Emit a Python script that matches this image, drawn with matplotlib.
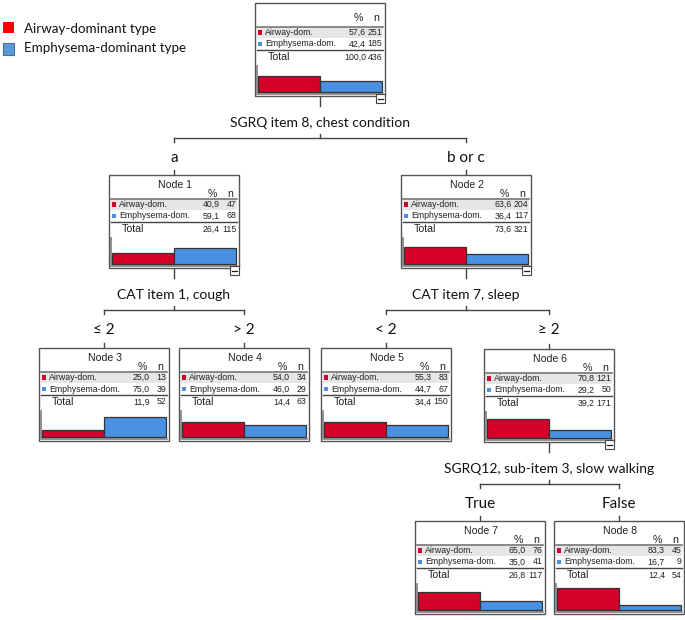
"""
classification tree: airway- vs emphysema-dominant type
"""

import matplotlib
matplotlib.use('Agg')
from matplotlib import pyplot as plt
from matplotlib.patches import Rectangle

# node data
node_names = ['', 'Node 1', 'Node 2', 'Node 3', 'Node 4', 'Node 5', 'Node 6', 'Node 7', 'Node 8']
airway_pct = [57.6, 40.9, 63.6, 25.0, 54.0, 55.3, 70.8, 65.0, 83.3]
airway_n = [251, 47, 204, 13, 34, 83, 121, 76, 45]
emph_pct = [42.4, 59.1, 36.4, 75.0, 46.0, 44.7, 29.2, 35.0, 16.7]
emph_n = [185, 68, 117, 39, 29, 67, 50, 41, 9]
total_pct = [100.0, 26.4, 73.6, 11.9, 14.4, 34.4, 39.2, 26.8, 12.4]
total_n = [436, 115, 321, 52, 63, 150, 171, 117, 54]

# splits: parent, label, children, branch labels
split_parent = [0, 1, 2, 6]
split_label = ['SGRQ item 8, chest condition', 'CAT item 1, cough',
               'CAT item 7, sleep', 'SGRQ12, sub-item 3, slow walking']
split_children = [(1, 2), (3, 4), (5, 6), (7, 8)]
branch_labels = [('a', 'b or c'), ('\u2264 2', '> 2'), ('< 2', '\u2265 2'), ('True', 'False')]

legend_labels = ['Airway-dominant type', 'Emphysema-dominant type']

RED = '#d4002a'
BLUE = '#4a90e2'
W, H = 130, 93

# top-left corners of node boxes (pixels)
box_xy = [(255, 3), (109, 175), (401, 175), (39, 348), (179, 348),
          (321, 348), (484, 349), (415, 521), (554, 521)]

fig = plt.figure(figsize=(6.85, 6.2), dpi=100)
ax = fig.add_axes([0, 0, 1, 1])
ax.set_xlim(0, 685)
ax.set_ylim(620, 0)
ax.axis('off')

small = dict(family='Liberation Sans', fontsize=6.3, color='#222222')
mid = dict(family='Liberation Sans', fontsize=7.6, color='#222222')
calib = dict(family='Lato', color='#111111')


def draw_node(i):
    x0, y0 = box_xy[i]
    ax.add_patch(Rectangle((x0, y0), W, H, fc='white', ec='#555555', lw=1.0, zorder=2))
    # row band and lines
    ax.add_patch(Rectangle((x0 + 2, y0 + 24), W - 4, 11, fc='#e6e6e6', ec='none', zorder=3))
    ax.plot([x0 + 2, x0 + W - 2], [y0 + 23.5, y0 + 23.5], color='#777777', lw=1.2, zorder=4)
    ax.plot([x0 + 2, x0 + W - 2], [y0 + 47, y0 + 47], color='#444444', lw=1.0, zorder=4)
    hy = y0 + 19
    if node_names[i]:
        ax.text(x0 + 66, y0 + 10, node_names[i], ha='center', va='center', zorder=5, **mid)
    else:
        hy = y0 + 15
    ax.text(x0 + 103, hy, '%', ha='center', va='center', zorder=5, **mid)
    ax.text(x0 + 121, hy, 'n', ha='center', va='center', zorder=5, **mid)
    # rows
    ax.add_patch(Rectangle((x0 + 3, y0 + 27), 4.5, 4.5, fc=RED, ec='none', zorder=5))
    ax.add_patch(Rectangle((x0 + 3, y0 + 38.5), 4.5, 4.5, fc=BLUE, ec='none', zorder=5))
    ax.text(x0 + 10, y0 + 29.5, 'Airway-dom.', ha='left', va='center', zorder=5, **small)
    ax.text(x0 + 10, y0 + 41, 'Emphysema-dom.', ha='left', va='center', zorder=5, **small)
    ax.text(x0 + 111, y0 + 29.5, f'{airway_pct[i]:.1f}'.replace('.', ','), ha='right', va='center', zorder=5, **small)
    ax.text(x0 + 111, y0 + 41, f'{emph_pct[i]:.1f}'.replace('.', ','), ha='right', va='center', zorder=5, **small)
    ax.text(x0 + 127.5, y0 + 29.5, str(airway_n[i]), ha='right', va='center', zorder=5, **small)
    ax.text(x0 + 127.5, y0 + 41, str(emph_n[i]), ha='right', va='center', zorder=5, **small)
    ax.text(x0 + 13, y0 + 54, 'Total', ha='left', va='center', zorder=5, **mid)
    ax.text(x0 + 111, y0 + 54, f'{total_pct[i]:.1f}'.replace('.', ','), ha='right', va='center', zorder=5, **small)
    ax.text(x0 + 127.5, y0 + 54, str(total_n[i]), ha='right', va='center', zorder=5, **small)
    # bar area
    base = y0 + 89
    ax.plot([x0 + 2.5, x0 + 2.5, x0 + W - 1.5], [y0 + 63, base + 1.5, base + 1.5],
            color='#888888', lw=1.3, zorder=4)
    ax.bar([x0 + 34, x0 + 96], [-airway_pct[i] * 0.27, -emph_pct[i] * 0.27], bottom=base,
           width=61.5, color=[RED, BLUE], edgecolor='#333333', lw=0.9, zorder=5)


for i in range(len(node_names)):
    draw_node(i)

# connectors
for p, lab, (c1, c2), (b1, b2) in zip(split_parent, split_label, split_children, branch_labels):
    px, py = box_xy[p]
    cx = px + W / 2
    bottom = py + H
    ax.plot([cx, cx], [bottom, bottom + 10], color='#444444', lw=1.0, zorder=1)
    ax.text(cx, bottom + 27, lab, ha='center', va='center', fontsize=10, zorder=5, **calib)
    ly = bottom + 42
    x1 = box_xy[c1][0] + W / 2
    x2 = box_xy[c2][0] + W / 2
    ax.plot([x1, x2], [ly, ly], color='#444444', lw=1.0, zorder=1)
    ax.plot([cx, cx], [ly - 4, ly], color='#444444', lw=1.0, zorder=1)
    for cxx, bl, c in [(x1, b1, c1), (x2, b2, c2)]:
        ax.plot([cxx, cxx], [ly, ly + 4], color='#444444', lw=1.0, zorder=1)
        ax.text(cxx, ly + 20, bl, ha='center', va='center', fontsize=11, zorder=5, **calib)
        ax.plot([cxx, cxx], [box_xy[c][1] - 5, box_xy[c][1]], color='#444444', lw=1.0, zorder=1)
    # collapse button
    ax.add_patch(Rectangle((px + W - 9, bottom - 2), 9, 9, fc='white', ec='#444444', lw=0.8, zorder=6))
    ax.plot([px + W - 7, px + W - 2], [bottom + 2.5, bottom + 2.5], color='#222222', lw=0.9, zorder=7)

# legend
ax.add_patch(Rectangle((3, 22), 11, 11, fc='#ff0000', ec='none'))
ax.add_patch(Rectangle((3, 43), 11, 12, fc='#5b9bd5', ec='#41719c', lw=0.8))
ax.text(24, 29, legend_labels[0], ha='left', va='center', fontsize=9.6, **calib)
ax.text(24, 48, legend_labels[1], ha='left', va='center', fontsize=9.6, **calib)

fig.savefig('out.png', dpi=100)
